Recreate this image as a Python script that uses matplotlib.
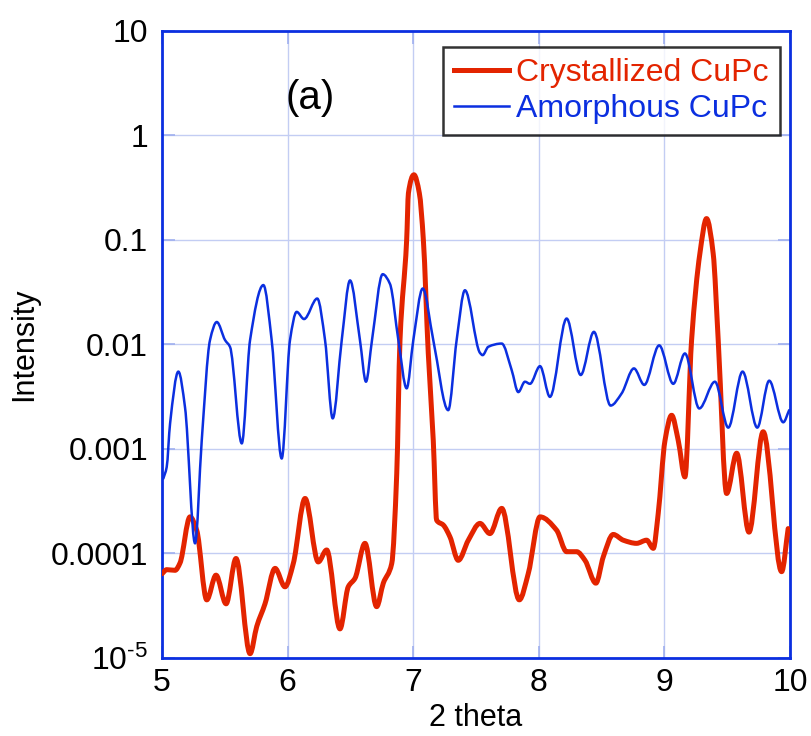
import numpy as np
import matplotlib
matplotlib.use("Agg")
import matplotlib.pyplot as plt
from matplotlib.path import Path
from matplotlib.patches import PathPatch
from matplotlib.lines import Line2D
from matplotlib.ticker import FixedLocator, FixedFormatter

plt.rcParams["font.family"] = ["Liberation Sans", "DejaVu Sans"]
plt.rcParams["mathtext.fontset"] = "custom"
plt.rcParams["mathtext.rm"] = "Liberation Sans"
plt.rcParams["mathtext.it"] = "Liberation Sans"

# Crystallized CuPc scan (2 theta, intensity)
cryst_2theta = [5.000, 5.037, 5.104, 5.143, 5.223, 5.276, 5.356, 5.430, 5.510, 5.589,
                5.701, 5.754, 5.820, 5.900, 5.979, 6.045, 6.139, 6.244, 6.311, 6.417,
                6.483, 6.537, 6.616, 6.709, 6.762, 6.829, 6.869, 6.895, 6.948, 6.962,
                7.006, 7.049, 7.081, 7.120, 7.160, 7.187, 7.240, 7.293, 7.359, 7.439,
                7.532, 7.611, 7.705, 7.845, 7.916, 8.010, 8.142, 8.222, 8.302, 8.368,
                8.455, 8.514, 8.593, 8.673, 8.779, 8.859, 8.912, 8.951, 9.005, 9.058,
                9.111, 9.164, 9.217, 9.283, 9.336, 9.389, 9.429, 9.496, 9.576, 9.674,
                9.787, 9.934, 9.986]
cryst_int = [6.4e-5, 7.0e-5, 6.9e-5, 8.1e-5, 2.24e-4, 1.67e-4, 3.6e-5, 6.2e-5, 3.3e-5, 8.95e-5,
             1.1e-5, 2.0e-5, 3.3e-5, 7.2e-5, 4.8e-5, 8.0e-5, 3.36e-4, 8.3e-5, 1.08e-4, 1.9e-5,
             4.8e-5, 5.8e-5, 1.25e-4, 3.1e-5, 5.2e-5, 8.0e-5, 5.8e-4, 0.011, 0.10, 0.28,
             0.42, 0.28, 0.10, 0.0083, 1.2e-3, 2.08e-4, 1.87e-4, 1.44e-4, 8.6e-5, 1.34e-4,
             1.94e-4, 1.55e-4, 2.7e-4, 3.6e-5, 6.4e-5, 2.24e-4, 1.67e-4, 1.04e-4, 1.04e-4, 8.6e-5,
             5.2e-5, 9.3e-5, 1.52e-4, 1.34e-4, 1.25e-4, 1.34e-4, 1.12e-4, 2.4e-4, 1.2e-3, 2.1e-3,
             1.2e-3, 5.4e-4, 0.011, 0.074, 0.16, 0.074, 0.011, 3.75e-4, 9.1e-4, 1.6e-4,
             1.46e-3, 6.7e-5, 1.73e-4]

# Amorphous CuPc scan (2 theta, intensity)
amor_2theta = [5.010, 5.037, 5.064, 5.130, 5.183, 5.263, 5.316, 5.382, 5.436, 5.502,
               5.541, 5.635, 5.701, 5.807, 5.873, 5.953, 6.019, 6.072, 6.131, 6.236,
               6.298, 6.359, 6.431, 6.497, 6.576, 6.624, 6.672, 6.757, 6.815, 6.882,
               6.948, 7.001, 7.076, 7.160, 7.279, 7.346, 7.412, 7.532, 7.553, 7.598,
               7.705, 7.784, 7.837, 7.890, 7.930, 8.010, 8.089, 8.222, 8.334, 8.439,
               8.572, 8.660, 8.758, 8.840, 8.959, 9.071, 9.164, 9.278, 9.403, 9.509,
               9.623, 9.740, 9.835, 9.947, 9.994]
amor_int = [5.2e-4, 6.7e-4, 1.75e-3, 5.5e-3, 2.5e-3, 1.25e-4, 1.2e-3, 0.011, 0.0164, 0.011,
            0.0095, 1.13e-3, 0.011, 0.037, 0.011, 8.1e-4, 0.011, 0.0205, 0.0175, 0.0275,
            0.011, 1.96e-3, 0.011, 0.041, 0.011, 4.4e-3, 0.011, 0.047, 0.038, 0.011,
            3.8e-3, 0.011, 0.0343, 0.011, 2.35e-3, 0.011, 0.033, 0.0083, 7.9e-3, 9.5e-3,
            0.0102, 5.7e-3, 3.5e-3, 4.4e-3, 4.2e-3, 6.2e-3, 3.15e-3, 0.0177, 5.1e-3, 0.0132,
            2.6e-3, 3.4e-3, 5.9e-3, 4.1e-3, 9.8e-3, 4.2e-3, 8.2e-3, 2.44e-3, 4.4e-3, 1.6e-3,
            5.5e-3, 1.6e-3, 4.5e-3, 1.8e-3, 2.35e-3]

x_ticks = [5, 6, 7, 8, 9, 10]
y_ticks = [1e-5, 1e-4, 1e-3, 1e-2, 1e-1, 1, 10]
y_tick_labels = [r"$10^{\text{-5}}$", "0.0001", "0.001", "0.01", "0.1", "1", "10"]

red = "#e32400"
blue = "#0b2fe0"
grid_c = "#c3cdf3"


def smooth_path(xs, ys):
    """Monotone cubic (Fritsch-Carlson) Bezier through the points, built in log-y."""
    x = np.asarray(xs, float)
    y = np.log10(np.asarray(ys, float))
    h = np.diff(x)
    d = np.diff(y) / h
    n = len(x)
    m = np.zeros(n)
    m[0], m[-1] = d[0], d[-1]
    for k in range(1, n - 1):
        if d[k - 1] * d[k] > 0:
            w1 = 2 * h[k] + h[k - 1]
            w2 = h[k] + 2 * h[k - 1]
            m[k] = (w1 + w2) / (w1 / d[k - 1] + w2 / d[k])
    verts = [(x[0], 10 ** y[0])]
    codes = [Path.MOVETO]
    for k in range(n - 1):
        c1 = (x[k] + h[k] / 3, 10 ** (y[k] + m[k] * h[k] / 3))
        c2 = (x[k + 1] - h[k] / 3, 10 ** (y[k + 1] - m[k + 1] * h[k] / 3))
        verts += [c1, c2, (x[k + 1], 10 ** y[k + 1])]
        codes += [Path.CURVE4] * 3
    return Path(verts, codes)


fig = plt.figure(figsize=(8.11, 7.36), dpi=100)
ax = fig.add_axes([0.1998, 0.106, 0.7742, 0.852])

ax.set_yscale("log")
ax.set_xlim(5, 10)
ax.set_ylim(1e-5, 10)

ax.add_patch(PathPatch(smooth_path(cryst_2theta, cryst_int), fill=False, edgecolor=red,
                       lw=3.6, joinstyle="round", capstyle="round", zorder=3))
ax.add_patch(PathPatch(smooth_path(amor_2theta, amor_int), fill=False, edgecolor=blue,
                       lw=1.8, joinstyle="round", capstyle="round", zorder=4))

ax.xaxis.set_major_locator(FixedLocator(x_ticks))
ax.yaxis.set_major_locator(FixedLocator(y_ticks))
ax.yaxis.set_major_formatter(FixedFormatter(y_tick_labels))
ax.yaxis.set_minor_locator(FixedLocator([]))
ax.set_xticklabels([str(v) for v in x_ticks])

ax.grid(True, color=grid_c, lw=1.0, zorder=0)
ax.set_axisbelow(True)
ax.tick_params(axis="both", which="major", direction="in", length=9, width=1.2,
               color="#9fb0ef", labelsize=23, top=True, right=True, pad=10)
ax.tick_params(axis="x", pad=7)
for s in ax.spines.values():
    s.set_color(blue)
    s.set_linewidth(2.0)

ax.set_xlabel("2 theta", fontsize=22, labelpad=4)
ax.set_ylabel("Intensity", fontsize=22, labelpad=8)

ax.text(6.18, 2.27, "(a)", fontsize=29, ha="center", va="center")

handles = [Line2D([], [], color=red, lw=3.6), Line2D([], [], color=blue, lw=1.8)]
leg = ax.legend(handles, ["Crystallized CuPc", "Amorphous CuPc"], loc="upper right",
                bbox_to_anchor=(0.985, 0.975), fontsize=23, frameon=True, fancybox=False,
                handlelength=1.7, handletextpad=0.25, borderpad=0.36, labelspacing=0.18,
                borderaxespad=0)
leg.get_frame().set_edgecolor("black")
leg.get_frame().set_linewidth(1.8)
for txt, c in zip(leg.get_texts(), [red, blue]):
    txt.set_color(c)

fig.savefig("out.png", dpi=100)
